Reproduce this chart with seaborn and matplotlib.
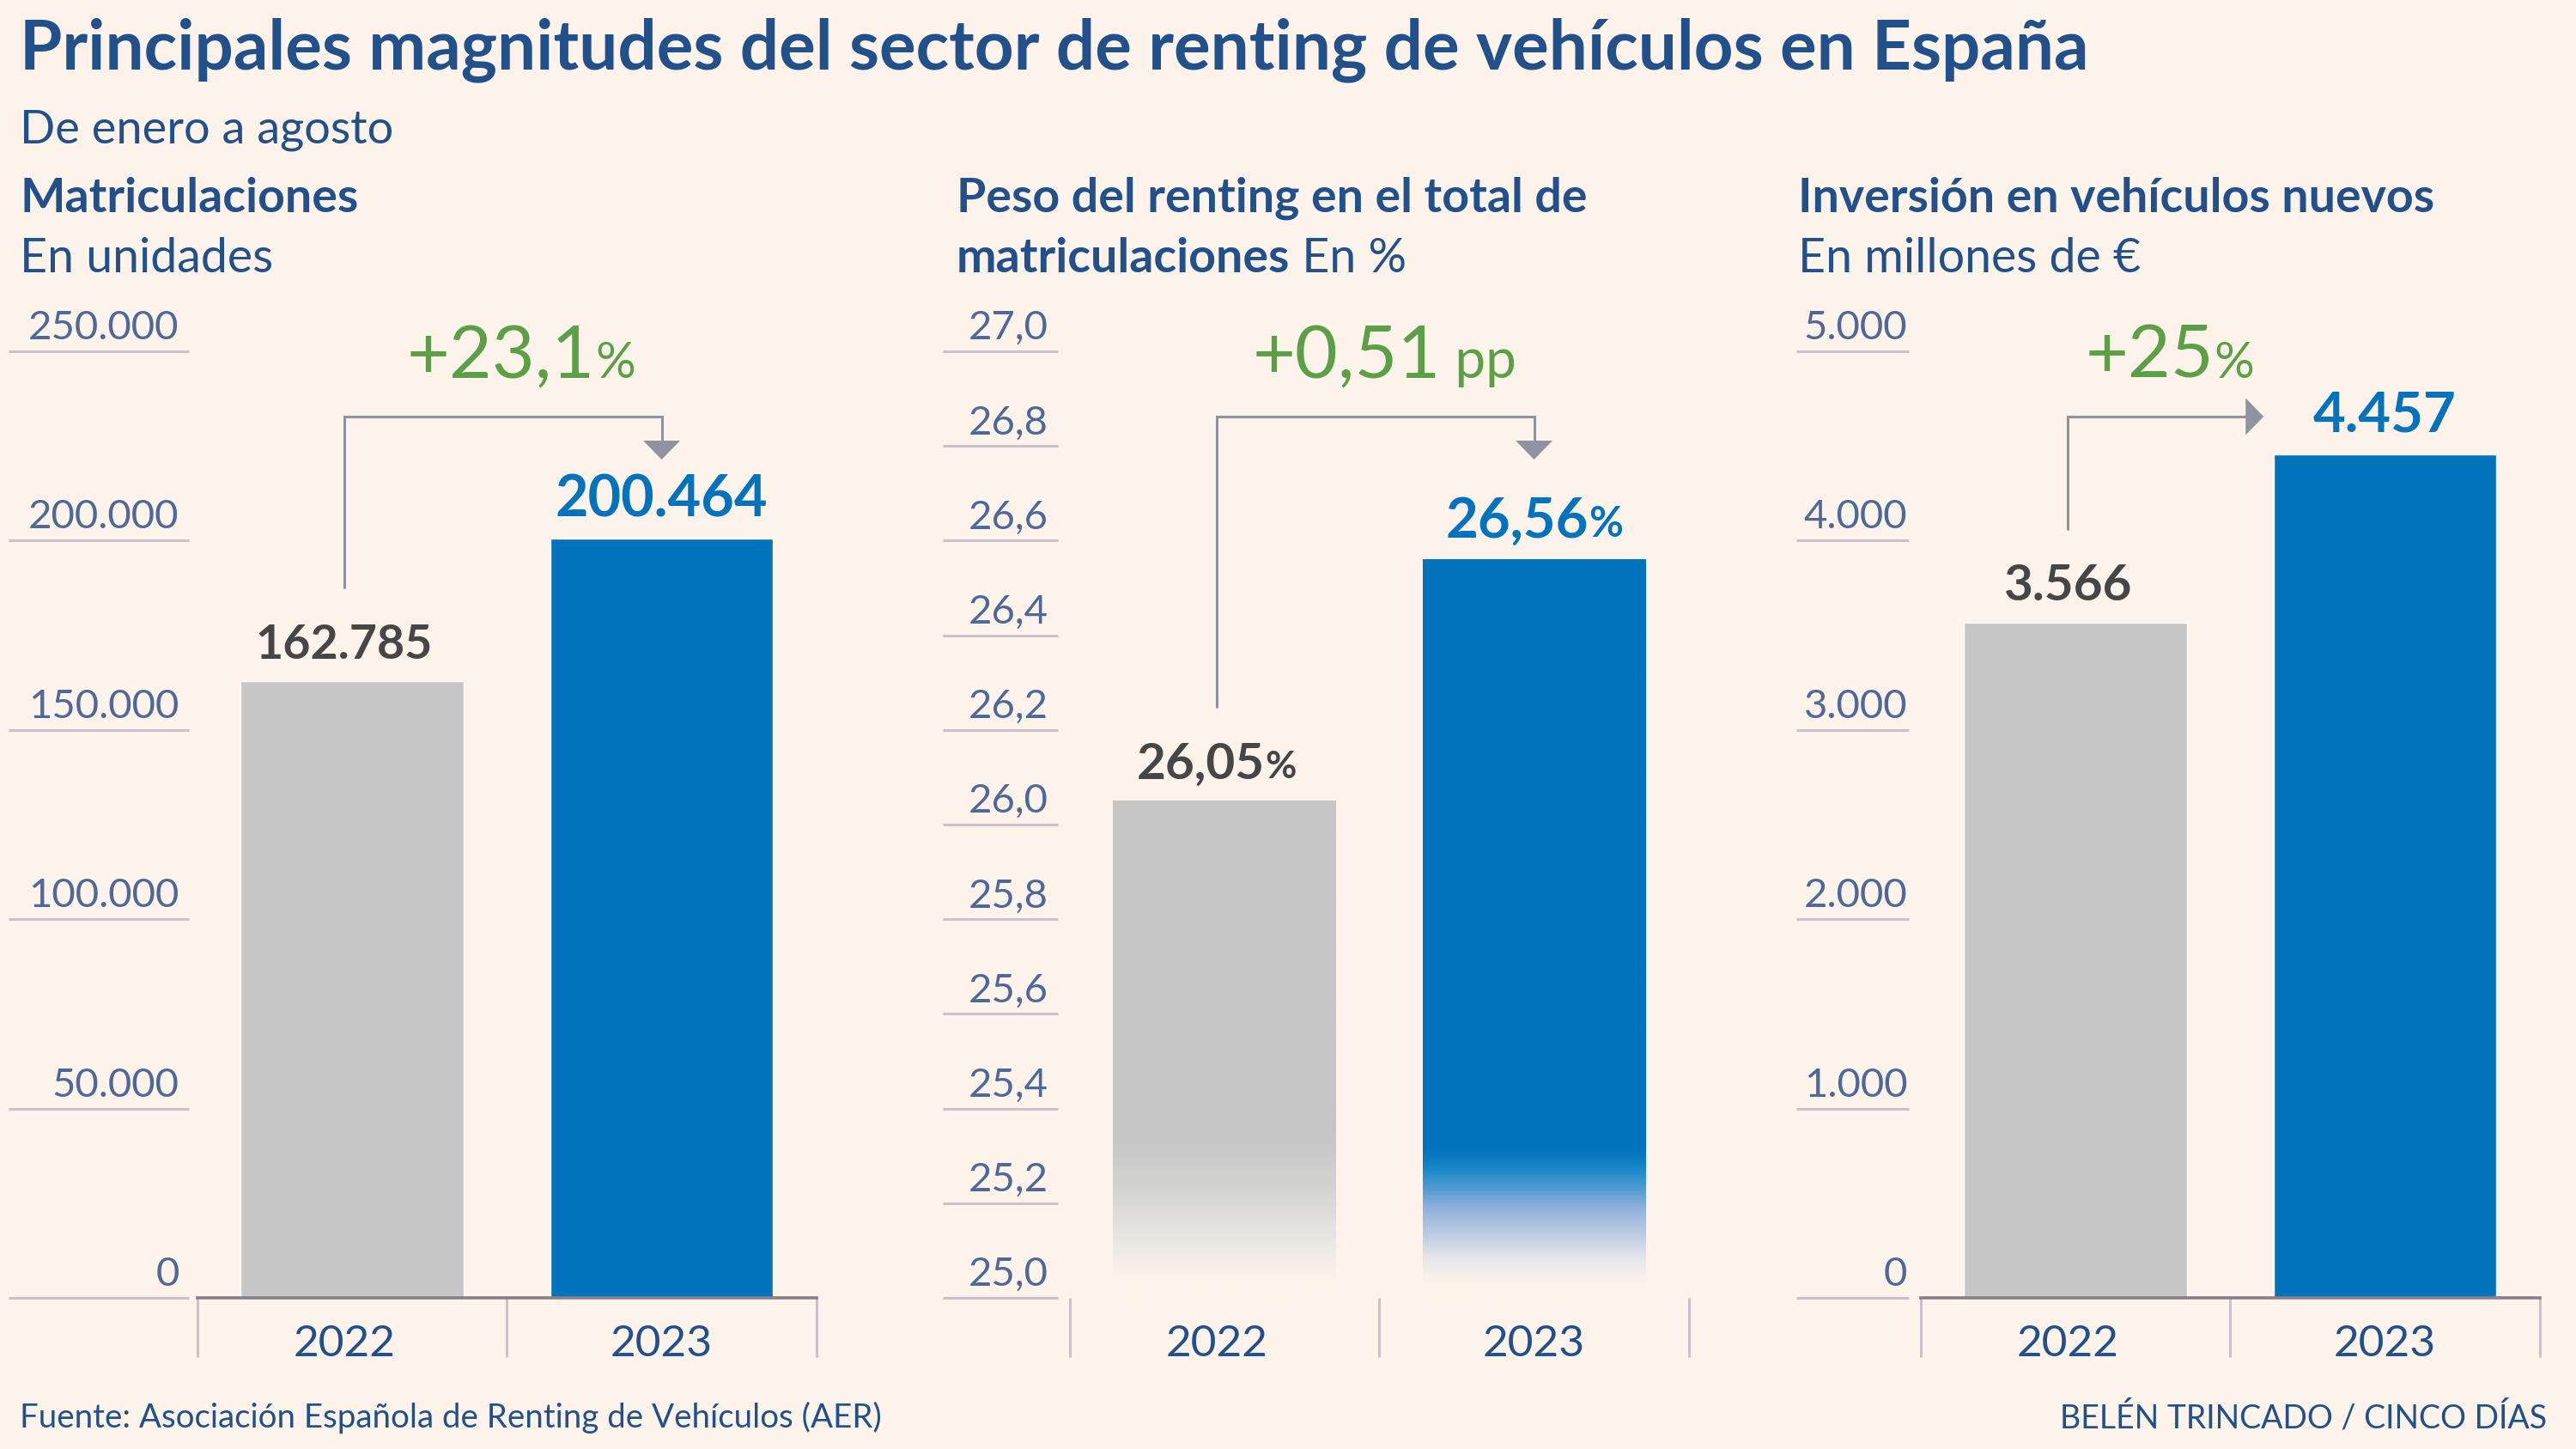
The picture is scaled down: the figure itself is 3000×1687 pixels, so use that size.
import numpy as np
import pandas as pd
import matplotlib
matplotlib.use('Agg')
import matplotlib.pyplot as plt
import matplotlib.transforms as mtransforms
from matplotlib.lines import Line2D
from matplotlib.patches import Polygon
from matplotlib.colors import LinearSegmentedColormap
import seaborn as sns

# data (enero-agosto)
years = ['2022', '2023']
matriculaciones = [162785, 200464]
peso_renting = [26.05, 26.56]
inversion = [3566, 4457]

ticks_matric = [0, 50000, 100000, 150000, 200000, 250000]
ticks_peso = [25.0, 25.2, 25.4, 25.6, 25.8, 26.0, 26.2, 26.4, 26.6, 26.8, 27.0]
ticks_inv = [0, 1000, 2000, 3000, 4000, 5000]

BG = '#fdf3ea'
NAVY = '#21508a'
TICK_TXT = '#4e6899'
GRID = '#cbc1ca'
BASE = '#86808b'
GRAY_BAR = '#c6c6c6'
BLUE = '#0073bc'
GREEN = '#5b9f46'
DARK = '#464646'
ARROW = '#8f929f'

W, H = 3000, 1687
sns.set_theme(style='white')
plt.rcParams['font.family'] = ['Lato', 'DejaVu Sans']

fig = plt.figure(figsize=(W / 100, H / 100), dpi=100)
fig.patch.set_facecolor(BG)
renderer = fig.canvas.get_renderer()
IDENT = mtransforms.IdentityTransform()


def miles(v):
    return f'{v:,}'.replace(',', '.')


def coma(v, nd):
    return f'{v:.{nd}f}'.replace('.', ',')


def put_parts(x, y, parts, ha='center'):
    # parts: (text, size, weight, color); x, y in pixels from bottom-left, y = baseline
    arts = [fig.text(0, 0, s, fontsize=sz, fontweight=wt, color=c, ha='left',
                     va='baseline', transform=IDENT) for s, sz, wt, c in parts]
    widths = [a.get_window_extent(renderer).width for a in arts]
    x0 = x - sum(widths) / 2 if ha == 'center' else x
    for a, w in zip(arts, widths):
        a.set_position((x0, y))
        x0 += w


def top_text(x, y_top, parts, ha='left'):
    put_parts(x, H - y_top, parts, ha=ha)


BOTTOM = (H - 1511) / H
AX_H = 1102 / H
AX_W = 721.3 / W


def panel(left, values, ticks, tick_labels, lo, hi, line_x, label_x,
          value_parts, change_parts, change_fx, arrow_side, baseline=True, fades=None):
    ax = fig.add_axes([left / W, BOTTOM, AX_W, AX_H])
    ax.set_facecolor('none')
    df = pd.DataFrame({'year': years, 'value': values})
    sns.barplot(data=df, x='year', y='value', hue='year', palette=[GRAY_BAR, BLUE],
                width=0.72, saturation=1, legend=False, ax=ax)

    if fades is not None:
        # fade the lower part of each bar into the background (axis starts at 25)
        for patch, v, stops in zip(ax.patches, values, fades):
            x0, w = patch.get_x(), patch.get_width()
            span = v - lo
            cstops = [(min(1.0, (y - lo) / span), c) for y, c in stops] + [(1.0, stops[-1][1])]
            cmap = LinearSegmentedColormap.from_list('fade', cstops)
            grad = np.linspace(0, 1, 512).reshape(-1, 1)
            patch.set_visible(False)
            ax.imshow(grad, cmap=cmap, extent=[x0, x0 + w, lo, v], origin='lower',
                      aspect='auto', interpolation='bilinear', zorder=patch.get_zorder())

    ax.set_xlim(-0.5, 1.5)
    ax.set_ylim(lo, hi)
    ax.set_xlabel('')
    ax.set_ylabel('')
    ax.set_yticks([])
    for s in ['left', 'right', 'top']:
        ax.spines[s].set_visible(False)
    if baseline:
        ax.spines['bottom'].set_color(BASE)
        ax.spines['bottom'].set_linewidth(2.6)
    else:
        ax.spines['bottom'].set_visible(False)

    ax.set_xticks([-0.025, 1])
    ax.set_xticklabels(years, fontsize=37, color=NAVY)
    ax.set_xticks([-0.5, 0.5, 1.5], minor=True)
    ax.tick_params(axis='x', which='both', bottom=True)
    ax.tick_params(axis='x', which='major', length=0, pad=22)
    ax.tick_params(axis='x', which='minor', length=50, width=2.2, color=GRID, direction='out')

    # short value lines with labels on the left
    ytr = ax.get_yaxis_transform()
    ax.hlines(ticks, line_x[0], line_x[1], transform=ytr, colors=GRID, lw=2.2, clip_on=False)
    lab_tr = mtransforms.offset_copy(ytr, fig=fig, y=14, units='dots')
    for v, s in zip(ticks, tick_labels):
        ax.text(label_x, v, s, transform=lab_tr, ha='right', va='baseline', fontsize=34,
                color=TICK_TXT, clip_on=False)

    # bar value labels
    dx = [-0.025, 0]
    pts = []
    for i, (v, parts) in enumerate(zip(values, value_parts)):
        px, py = ax.transData.transform((i + dx[i], v))
        put_parts(px, py + 26, parts)
        pts.append((px, py))

    # change label + arrow
    ax_top = ax.transAxes.transform((0, 1))[1]
    cx = ax.transAxes.transform((change_fx, 1))[0]
    put_parts(cx, ax_top - 31, change_parts)

    x_start, y_start = pts[0][0], pts[0][1] + 108
    y_corner = ax_top - 76
    if arrow_side == 'down':
        x_end = pts[1][0]
        xs = [x_start, x_start, x_end, x_end]
        ys = [y_start, y_corner, y_corner, ax_top - 104]
        head = [(x_end - 21.5, ax_top - 104), (x_end + 21.5, ax_top - 104), (x_end, ax_top - 126)]
    else:
        tip = ax.transData.transform((1 - 0.36, 0))[0] - 11.5
        xs = [x_start, x_start, tip - 20]
        ys = [y_start, y_corner, y_corner]
        head = [(tip - 21, y_corner + 21.5), (tip - 21, y_corner - 21.5), (tip, y_corner)]
    fig.add_artist(Line2D(xs, ys, transform=IDENT, color=ARROW, lw=2.2,
                          solid_joinstyle='miter', solid_capstyle='butt'))
    fig.add_artist(Polygon(head, closed=True, transform=IDENT, facecolor=ARROW,
                           edgecolor='none'))
    return ax


# Panel 1: matriculaciones
ch1 = (matriculaciones[1] / matriculaciones[0] - 1) * 100
panel(229.6, matriculaciones, ticks_matric, [miles(t) for t in ticks_matric], 0, 250000,
      (-0.305, -0.0133), -0.029,
      [[(miles(matriculaciones[0]), 40, 'bold', DARK)],
       [(miles(matriculaciones[1]), 48, 'bold', BLUE)]],
      [('+' + coma(ch1, 1), 62, 'normal', GREEN), ('%', 42, 'normal', GREEN)],
      0.523, 'down')

# Panel 2: peso del renting (stops given as axis values)
ch2 = peso_renting[1] - peso_renting[0]
gray_fade = [(25.0, BG), (25.04, BG), (25.08, '#f3ede6'), (25.14, '#e5e3e0'),
             (25.23, '#d3d3d2'), (25.34, GRAY_BAR)]
blue_fade = [(25.0, BG), (25.03, BG), (25.08, '#e7e6ea'), (25.13, '#c0cce4'), (25.19, '#8db0dc'),
             (25.23, '#4e9bd2'), (25.27, '#1a88c8'), (25.31, BLUE)]
panel(1245.6, peso_renting, ticks_peso, [coma(t, 1) for t in ticks_peso], 25.0, 27.0,
      (-0.204, -0.0186), -0.0345,
      [[(coma(peso_renting[0], 2), 42, 'bold', DARK), ('%', 32, 'bold', DARK)],
       [(coma(peso_renting[1], 2), 47, 'bold', BLUE), ('%', 35, 'bold', BLUE)]],
      [('+' + coma(ch2, 2), 62, 'normal', GREEN), (' pp', 46, 'normal', GREEN)],
      0.508, 'down', baseline=False, fades=[gray_fade, blue_fade])

# Panel 3: inversion
ch3 = (inversion[1] / inversion[0] - 1) * 100
panel(2236.6, inversion, ticks_inv, [miles(t) for t in ticks_inv], 0, 5000,
      (-0.2003, -0.0186), -0.021,
      [[(miles(inversion[0]), 42, 'bold', DARK)],
       [(miles(inversion[1]), 47, 'bold', BLUE)]],
      [('+' + coma(ch3, 0), 62, 'normal', GREEN), ('%', 42, 'normal', GREEN)],
      0.403, 'right')

# headings
top_text(23, 80, [('Principales magnitudes del sector de renting de vehículos en España', 57.5, 'bold', NAVY)])
top_text(23, 167, [('De enero a agosto', 39, 'normal', NAVY)])
top_text(23, 247, [('Matriculaciones', 40, 'bold', NAVY)])
top_text(23, 317, [('En unidades', 40, 'normal', NAVY)])
top_text(1114, 247, [('Peso del renting en el total de', 40, 'bold', NAVY)])
top_text(1114, 317, [('matriculaciones', 40, 'bold', NAVY), (' En %', 40, 'normal', NAVY)])
top_text(2094, 247, [('Inversión en vehículos nuevos', 40, 'bold', NAVY)])
top_text(2094, 317, [('En millones de €', 40, 'normal', NAVY)])

fig.text(23, H - 1662, 'Fuente: Asociación Española de Renting de Vehículos (AER)', fontsize=27.7,
         color=NAVY, ha='left', va='baseline', transform=IDENT)
fig.text(2966, H - 1662, 'BELÉN TRINCADO / CINCO DÍAS', fontsize=27,
         color=NAVY, ha='right', va='baseline', transform=IDENT)

fig.savefig('out.png', dpi=100, facecolor=BG)
